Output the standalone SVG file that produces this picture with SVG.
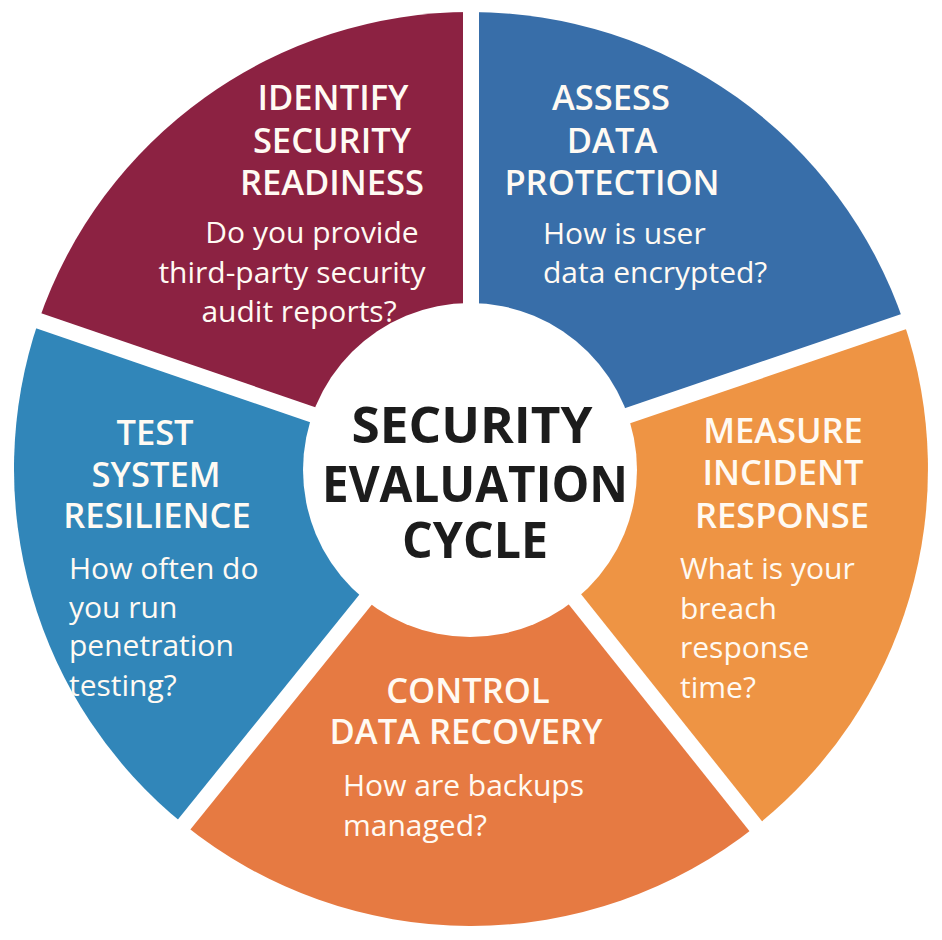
<svg xmlns="http://www.w3.org/2000/svg" width="942" height="940" viewBox="0 0 942 940">
<style>
.t{font-family:"Open Sans","Noto Sans","DejaVu Sans",sans-serif;font-weight:600;font-size:34.5px;fill:#fffaf3;text-anchor:middle}
.b{font-family:"Open Sans","Noto Sans","DejaVu Sans",sans-serif;font-weight:400;font-size:30px;fill:#fffaf3}
.c{font-family:"Open Sans","Noto Sans","DejaVu Sans",sans-serif;font-weight:700;font-size:51px;fill:#1c1c1c;text-anchor:middle}
.gap{stroke:#ffffff;stroke-width:16;stroke-linecap:butt}
</style>
<rect width="942" height="940" fill="#ffffff"/>
<g id="seg-identify">
<path d="M471,469 L38.6,320.9 A457,457 0 0 1 471,12 Z" fill="#8c2242"/>
</g>
<g id="seg-assess">
<path d="M471,469 L471,12 A457,457 0 0 1 903.5,321.5 Z" fill="#386ea9"/>
</g>
<g id="seg-measure">
<path d="M471,469 L903.5,321.5 A457,457 0 0 1 755.9,826.3 Z" fill="#ee9444"/>
</g>
<g id="seg-control">
<path d="M471,469 L755.9,826.3 A457,457 0 0 1 184,824.5 Z" fill="#e67a42"/>
</g>
<g id="seg-test">
<path d="M471,469 L184,824.5 A457,457 0 0 1 38.6,320.9 Z" fill="#3186b9"/>
</g>
<g id="connectors">
<line class="gap" x1="471" y1="469" x2="471" y2="0"/>
<line class="gap" x1="471" y1="469" x2="926" y2="314"/>
<line class="gap" x1="471" y1="469" x2="770" y2="844"/>
<line class="gap" x1="471" y1="469" x2="170" y2="842"/>
<line class="gap" x1="471" y1="469" x2="16" y2="313"/>
</g>
<g id="center">
<circle cx="470" cy="470" r="167" fill="#ffffff"/>
<text class="c" x="472" y="443" textLength="241" lengthAdjust="spacingAndGlyphs">SECURITY</text>
<text class="c" x="475" y="502" textLength="306" lengthAdjust="spacingAndGlyphs">EVALUATION</text>
<text class="c" x="475" y="558" textLength="146" lengthAdjust="spacingAndGlyphs">CYCLE</text>
</g>
<g id="text-identify">
<text class="t" x="333" y="110">IDENTIFY</text>
<text class="t" x="332" y="153">SECURITY</text>
<text class="t" x="332" y="195">READINESS</text>
<text class="b" x="312" y="243" text-anchor="middle">Do you provide</text>
<text class="b" x="292" y="283" text-anchor="middle">third-party security</text>
<text class="b" x="299" y="322" text-anchor="middle">audit reports?</text>
</g>
<g id="text-assess">
<text class="t" x="611" y="110">ASSESS</text>
<text class="t" x="612" y="153">DATA</text>
<text class="t" x="612" y="195">PROTECTION</text>
<text class="b" x="543" y="244">How is user</text>
<text class="b" x="543" y="283">data encrypted?</text>
</g>
<g id="text-measure">
<text class="t" x="783" y="443">MEASURE</text>
<text class="t" x="783" y="485">INCIDENT</text>
<text class="t" x="782" y="528">RESPONSE</text>
<text class="b" x="680" y="579">What is your</text>
<text class="b" x="680" y="619">breach</text>
<text class="b" x="680" y="658">response</text>
<text class="b" x="680" y="698">time?</text>
</g>
<g id="text-control">
<text class="t" x="468" y="703">CONTROL</text>
<text class="t" x="466" y="744">DATA RECOVERY</text>
<text class="b" x="343" y="796">How are backups</text>
<text class="b" x="343" y="836">managed?</text>
</g>
<g id="text-test">
<text class="t" x="155" y="445">TEST</text>
<text class="t" x="156" y="487">SYSTEM</text>
<text class="t" x="157" y="528">RESILIENCE</text>
<text class="b" x="69" y="579">How often do</text>
<text class="b" x="69" y="618">you run</text>
<text class="b" x="69" y="656">penetration</text>
<text class="b" x="69" y="696">testing?</text>
</g>
</svg>
